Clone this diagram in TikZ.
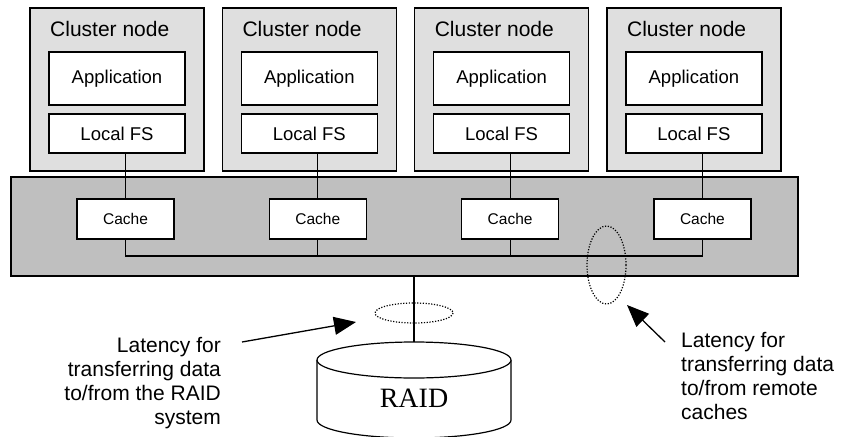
\documentclass[tikz,border=0pt]{standalone}
\usepackage{fontspec}
\setmainfont{Liberation Sans}
\newfontfamily\raidfont{Liberation Serif}
\usetikzlibrary{positioning,arrows.meta}

\begin{document}
\begin{tikzpicture}[x=1pt, y=-1pt,
  box/.style={draw, line width=1.2pt, outer sep=0pt, inner sep=0pt, anchor=north west},
  clusterbox/.style={box, fill=gray!25, minimum width=174pt, minimum height=163pt},
  innerbox/.style={box, fill=white, minimum width=136pt, font=\fontsize{18.5}{22}\selectfont},
  cachebox/.style={box, fill=white, minimum width=97pt, minimum height=40pt, font=\fontsize{15.5}{18}\selectfont},
  latency/.style={inner sep=0pt, font=\fontsize{21}{24}\selectfont},
  link/.style={line width=1.2pt},
  pointer/.style={line width=1.3pt, -{Triangle[length=22pt, width=18pt]}},
  ring/.style={line width=1.2pt, dash pattern=on 1.2pt off 1.6pt}
]
  \useasboundingbox (0,0) rectangle (842,436);

  % ---- interconnect band ----
  \node[box, fill=gray!50, minimum width=787pt, minimum height=99pt] (band) at (11,177) {};

  % ---- four cluster nodes with their caches ----
  \foreach \i in {1,...,4} {
    \pgfmathsetmacro{\dx}{192.3*(\i-1)}
    \node[clusterbox] (cl\i) at (30+\dx,8) {};
    \node[inner sep=0pt, anchor=base west, font=\fontsize{21}{24}\selectfont] (lbl\i) at (50+\dx,37) {Cluster node};
    \node[innerbox, minimum height=53pt] (app\i) at (49+\dx,52) {Application};
    \node[innerbox, minimum height=39pt] (fs\i) at (49+\dx,114) {Local FS};
    \node[cachebox] (cache\i) at (77+\dx,199) {Cache};
    \draw[link] (cache\i.north) -- (cache\i.north |- fs\i.south);
  }

  % Bus joining the caches
  \draw[link] (cache1.south) -- ++(0,17) coordinate (bus) -| (cache4.south);
  \draw[link] (cache2.south) -- (cache2.south |- bus);
  \draw[link] (cache3.south) -- (cache3.south |- bus);

  % ---- RAID cylinder ----
  \coordinate (raidtop) at (414,342);
  \fill[white] (317,360) -- (317,420) arc (180:0:97 and 18) -- (511,360) -- cycle;
  \draw[line width=1.2pt] (317,360) -- (317,420) arc (180:0:97 and 18) -- (511,360);
  \draw[line width=1.2pt, fill=white] (414,360) ellipse [x radius=97, y radius=18];
  \node[inner sep=0pt, font=\raidfont\fontsize{28}{32}\selectfont] (raid) at (414,398) {RAID};
  \draw[link] (band.south -| raidtop) -- (raidtop);

  % Latency rings
  \draw[ring] (414,313) ellipse [x radius=39, y radius=10];
  \draw[ring] (606.5,265) ellipse [x radius=19.5, y radius=39];

  % ---- annotations ----
  \node[latency, align=right, anchor=north east] (latraid) at (221,337) {Latency for\\transferring data\\to/from the RAID\\system};
  \node[latency, align=left, anchor=north west] (latcache) at (681,332) {Latency for\\transferring data\\to/from remote\\caches};
  \coordinate (raidtip) at (356,322);
  \coordinate (cachetip) at (627,305);
  \draw[pointer] (242,342) -- (raidtip);
  \draw[pointer] (665,342) -- (cachetip);
\end{tikzpicture}
\end{document}
